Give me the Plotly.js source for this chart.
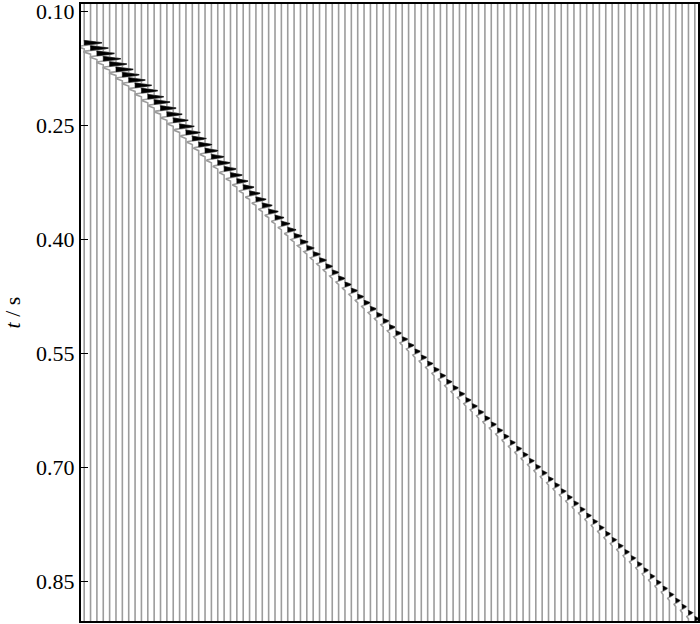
<!DOCTYPE html>
<html>
<head>
<meta charset="utf-8">
<script src="https://cdn.plot.ly/plotly-3.0.1.min.js"></script>
<style>html,body{margin:0;padding:0;background:#fff;}#chart{width:700px;height:624px;}</style>
</head>
<body>
<div id="chart"></div>
<script>
// Arrival time (s) of the first-break peak on each trace
const arrivalTimes = [
0.141,0.148,0.155,0.162,0.169,0.176,0.183,0.190,0.197,0.204,0.212,0.219,0.227,0.235,
0.243,0.251,0.259,0.267,0.275,0.283,0.291,0.299,0.307,0.315,0.323,0.331,0.339,0.347,
0.355,0.363,0.371,0.379,0.387,0.395,0.403,0.411,0.419,0.427,0.435,0.443,0.451,0.459,
0.467,0.475,0.483,0.491,0.499,0.507,0.515,0.523,0.531,0.539,0.547,0.555,0.563,0.571,
0.579,0.587,0.595,0.603,0.611,0.619,0.627,0.635,0.643,0.651,0.659,0.667,0.675,0.683,
0.691,0.699,0.707,0.715,0.723,0.731,0.739,0.747,0.755,0.763,0.771,0.779,0.787,0.795,
0.803,0.811,0.819,0.827,0.835,0.843,0.851,0.859,0.867,0.875,0.883,0.891,0.899
];
// Peak amplitude of each trace, in trace spacings
const amplitudes = [
2.8,2.8,2.75,2.75,2.7,2.7,
2.65,2.6,2.6,2.55,2.5,2.5,
2.45,2.4,2.35,2.3,2.25,2.2,
2.1,2.05,2.0,1.95,1.9,1.85,
1.75,1.7,1.65,1.6,1.55,1.5,
1.4,1.35,1.3,1.25,1.2,1.15,
1.1,1.08,1.05,1.02,1.0,0.98,
0.95,0.93,0.92,0.9,0.88,0.87,
0.86,0.85,0.84,0.83,0.82,0.81,
0.8,0.8,0.79,0.79,0.78,0.78,
0.77,0.77,0.76,0.76,0.75,0.75,
0.74,0.74,0.73,0.73,0.72,0.72,
0.71,0.71,0.70,0.70,0.70,0.69,
0.69,0.69,0.68,0.68,0.68,0.67,
0.67,0.67,0.66,0.66,0.66,0.65,
0.65,0.65,0.64,0.64,0.64,0.63,0.63
];
// Wavelet: time offsets from peak (s) and normalised amplitude
const waveletOffsets = [-0.003,-0.002,-0.001,0,0.001,0.002,0.003,0.004,0.005,0.006,0.007,0.008];
const waveletValues  = [0,0.3,0.75,1.0,0.8,0.4,0,-0.3,-0.4,-0.3,-0.15,0];
// Axis ticks
const tickValues = [0.10,0.25,0.40,0.55,0.70,0.85];
const tickLabels = ['0.10','0.25','0.40','0.55','0.70','0.85'];
const timeTop = 0.09, timeBottom = 0.902;

const lineX = [], lineY = [], fillX = [], fillY = [];
arrivalTimes.forEach((t0, i) => {
  const base = i + 1;
  const a = amplitudes[i];
  lineX.push(base); lineY.push(timeTop - 0.01);
  waveletOffsets.forEach((dt, k) => { lineX.push(base + a * waveletValues[k]); lineY.push(t0 + dt); });
  lineX.push(base); lineY.push(timeBottom + 0.01);
  lineX.push(null); lineY.push(null);
  waveletOffsets.forEach((dt, k) => {
    if (waveletValues[k] >= 0 && dt <= 0.003) {
      fillX.push(base + a * waveletValues[k]); fillY.push(t0 + dt);
    }
  });
  fillX.push(base); fillY.push(t0 - 0.003);
  fillX.push(null); fillY.push(null);
});

const serif = 'Liberation Serif, Times New Roman, serif';
const data = [
  {type:'scatter', mode:'lines', x: lineX, y: lineY, line:{color:'#9c9c9c', width:1.6}, hoverinfo:'skip', showlegend:false},
  {type:'scatter', mode:'lines', x: fillX, y: fillY, fill:'toself', fillcolor:'#000', line:{color:'#000', width:0.6}, hoverinfo:'skip', showlegend:false}
];

const layout = {
  width:700, height:624,
  margin:{l:81, r:2, t:4, b:3},
  paper_bgcolor:'#fff', plot_bgcolor:'#fff',
  font:{family:serif, color:'#000', size:22},
  xaxis:{range:[0.5, arrivalTimes.length + 0.5], showticklabels:false, ticks:'', showgrid:false, zeroline:false,
         showline:true, mirror:true, linecolor:'#000', linewidth:2},
  yaxis:{range:[timeBottom, timeTop], tickvals:tickValues, ticktext:tickLabels, ticks:'inside', ticklen:7, tickwidth:1.5, tickcolor:'#000',
         ticklabeloverflow:'allow',
         showgrid:false, zeroline:false, showline:true, mirror:true, linecolor:'#000', linewidth:2,
         tickfont:{family:serif, size:22, color:'#000'},
         title:{text:'<i>t</i> / s', font:{family:serif, size:22, color:'#000'}, standoff:16}}
};

Plotly.newPlot('chart', data, layout, {displayModeBar:false, staticPlot:true});
</script>
</body>
</html>
